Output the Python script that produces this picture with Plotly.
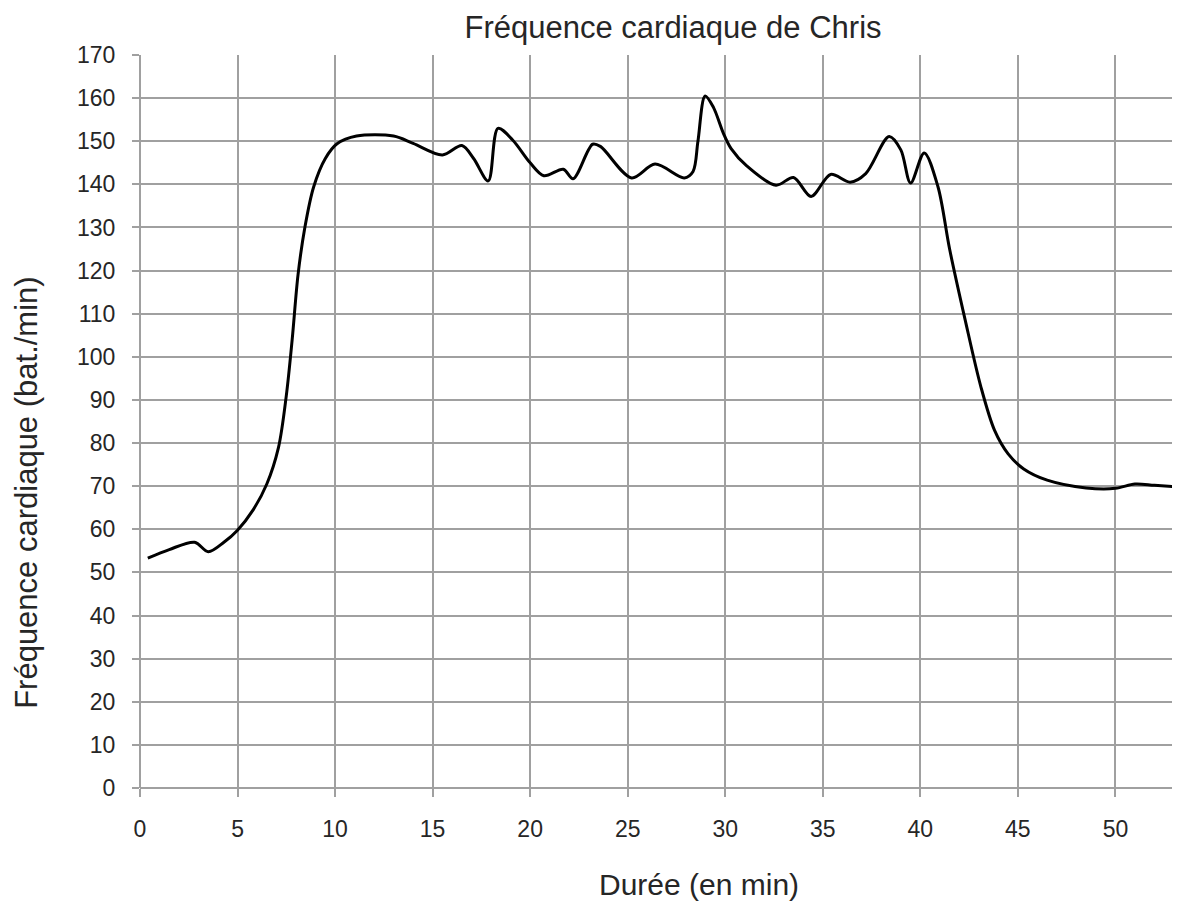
import plotly.graph_objects as go

# Heart-rate curve (minutes, beats/min)
duree_min = [0.4, 1.5, 2.8, 3.5, 4.3, 5.0, 5.8, 6.5, 7.1, 7.5, 7.8, 8.1, 8.45,
             8.9, 9.5, 10.1, 11.1, 13.0, 14.0, 15.5, 16.5, 17.1, 17.85, 18.35,
             19.1, 20.0, 20.7, 21.7, 22.2, 23.2, 23.6, 25.2, 26.4, 27.9, 28.35,
             28.6, 28.97, 29.4, 29.9, 30.3, 31.1, 32.6, 33.5, 34.4, 35.4, 36.4,
             37.2, 38.4, 39.0, 39.5, 40.2, 40.9, 41.5, 42.3, 43.1, 43.8, 44.5,
             45.3, 46.5, 48.5, 50.0, 51.0, 52.0, 53.3]
frequence = [53.3, 55.3, 57.0, 54.8, 57.0, 59.8, 64.5, 70.5, 79.0, 91.0, 104.0,
             119.0, 130.0, 139.4, 146.0, 149.4, 151.2, 151.2, 149.5, 146.8, 149.0,
             146.0, 140.8, 153.0, 150.3, 145.0, 142.0, 143.5, 141.3, 149.3, 148.8,
             141.5, 144.7, 141.5, 143.0, 150.0, 160.5, 157.8, 151.9, 148.3, 144.3,
             139.8, 141.6, 137.2, 142.3, 140.5, 142.5, 151.1, 148.0, 140.3, 147.3,
             139.5, 125.0, 108.5, 93.1, 83.0, 77.5, 74.0, 71.4, 69.6, 69.5, 70.5,
             70.2, 69.8]

x_ticks = [0, 5, 10, 15, 20, 25, 30, 35, 40, 45, 50]
y_ticks = list(range(0, 171, 10))

titre = "Fréquence cardiaque de Chris"
titre_x = "Durée (en min)"
titre_y = "Fréquence cardiaque (bat./min)"

GRID = "#a0a0a0"
TXT = "#262626"
TICKFONT = dict(family="Liberation Sans, Arial", size=23, color=TXT)
LABFONT = dict(family="Liberation Sans, Arial", size=30, color=TXT)

# the page adds an 8 px body margin, so the figure is 8 px smaller each way
W, H = 1174, 895

fig = go.Figure()
fig.add_trace(go.Scatter(
    x=duree_min, y=frequence, mode="lines",
    line=dict(color="black", width=3, shape="spline", smoothing=0.9),
    showlegend=False, hoverinfo="skip"))

fig.update_layout(
    width=W, height=H,
    margin=dict(l=132, r=10, t=47, b=115),
    paper_bgcolor="white", plot_bgcolor="white",
    title=dict(text=titre, x=0.5165, xref="paper", xanchor="center",
               y=1 - 19 / H, yref="container", yanchor="middle",
               font=dict(family="Liberation Sans, Arial", size=31, color=TXT)),
    xaxis=dict(range=[0, 52.9], tickvals=x_ticks, showgrid=True, gridcolor=GRID,
               gridwidth=2, zeroline=True, zerolinecolor=GRID, zerolinewidth=2,
               ticks="outside", ticklen=8, tickcolor=GRID, tickwidth=2,
               tickfont=TICKFONT, ticklabelstandoff=12, showline=False),
    yaxis=dict(range=[0, 170], tickvals=y_ticks, showgrid=True, gridcolor=GRID,
               gridwidth=2, zeroline=True, zerolinecolor=GRID, zerolinewidth=2,
               ticks="outside", ticklen=7, tickcolor=GRID, tickwidth=2,
               tickfont=TICKFONT, ticklabelstandoff=12, showline=False),
    annotations=[
        dict(text=titre_x, xref="paper", yref="paper", x=0.5417, y=-0.131,
             xanchor="center", yanchor="middle", showarrow=False, font=LABFONT),
        dict(text=titre_y, xref="paper", yref="paper", x=-0.1095, y=0.404,
             xanchor="center", yanchor="middle", showarrow=False, textangle=-90,
             font=dict(family="Liberation Sans, Arial", size=31, color=TXT)),
    ],
)

fig.write_html("out.html")
